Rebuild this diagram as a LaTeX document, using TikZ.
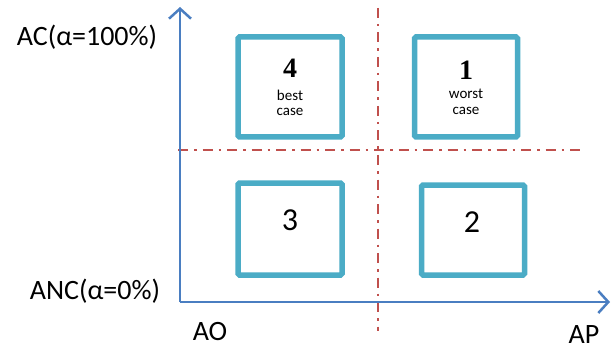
\documentclass[tikz,border=0pt]{standalone}
\usepackage{fontspec}
\setmainfont{Carlito}
\newfontfamily\numfont{Liberation Serif}
\usetikzlibrary{arrows.meta}
\definecolor{axisblue}{RGB}{74,126,193}
\definecolor{boxteal}{RGB}{75,172,198}
\definecolor{dashred}{RGB}{192,80,77}
\tikzset{
  axis/.style={draw=axisblue,line width=2.5pt,-{Straight Barb[length=10pt,width=22pt,line width=2.5pt]}},
  quad/.style={draw=boxteal,line width=5.5pt,rounded corners=1.5pt,fill=white},
  divider/.style={draw=dashred,line width=1.8pt,dash pattern=on 10pt off 6pt on 2.5pt off 6pt},
  lbl/.style={font=\fontsize{28}{30}\selectfont,inner sep=0pt},
  bignum/.style={font=\numfont\bfseries\fontsize{28}{28}\selectfont,inner sep=0pt},
  small/.style={font=\fontsize{15}{15}\selectfont,inner sep=0pt},
  plainnum/.style={font=\fontsize{32}{32}\selectfont,inner sep=0pt}
}
\begin{document}
\begin{tikzpicture}[x=1pt,y=-1pt]
\useasboundingbox (0,0) rectangle (613,350);
\coordinate (o) at (180,302);
\coordinate (ytop) at (180,7);
\coordinate (xend) at (610,302);
\coordinate (vtop) at (378,8);
\coordinate (vbot) at (378,331);
\coordinate (hl) at (178,150);
\coordinate (hr) at (580,150);
\draw[divider] (vtop) -- (vbot);
\draw[divider] (hl) -- (hr);
\draw[axis] (o) -- (ytop);
\draw[axis] (o) -- (xend);
\node[quad,minimum width=104pt,minimum height=100pt] (q4) at (290,87) {};
\node[quad,minimum width=103pt,minimum height=100pt] (q1) at (466,87) {};
\node[quad,minimum width=104pt,minimum height=92pt] (q3) at (290,229) {};
\node[quad,minimum width=103pt,minimum height=90pt] (q2) at (473,230) {};
\node[bignum] (n4) at (290,68) {4};
\node[small] (b4) at (290,95) {best};
\node[small] (c4) at (290,112) {case};
\node[bignum] (n1) at (466,70) {1};
\node[small] (b1) at (466,94) {worst};
\node[small] (c1) at (466,111) {case};
\node[plainnum] (n3) at (290,220) {3};
\node[plainnum] (n2) at (472,222) {2};
\node[lbl] (ac) at (87,37) {AC(α=100\%)};
\node[lbl] (anc) at (95,291) {ANC(α=0\%)};
\node[lbl] (ao) at (210,332) {AO};
\node[lbl] (ap) at (584,335) {AP};
\end{tikzpicture}
\end{document}
